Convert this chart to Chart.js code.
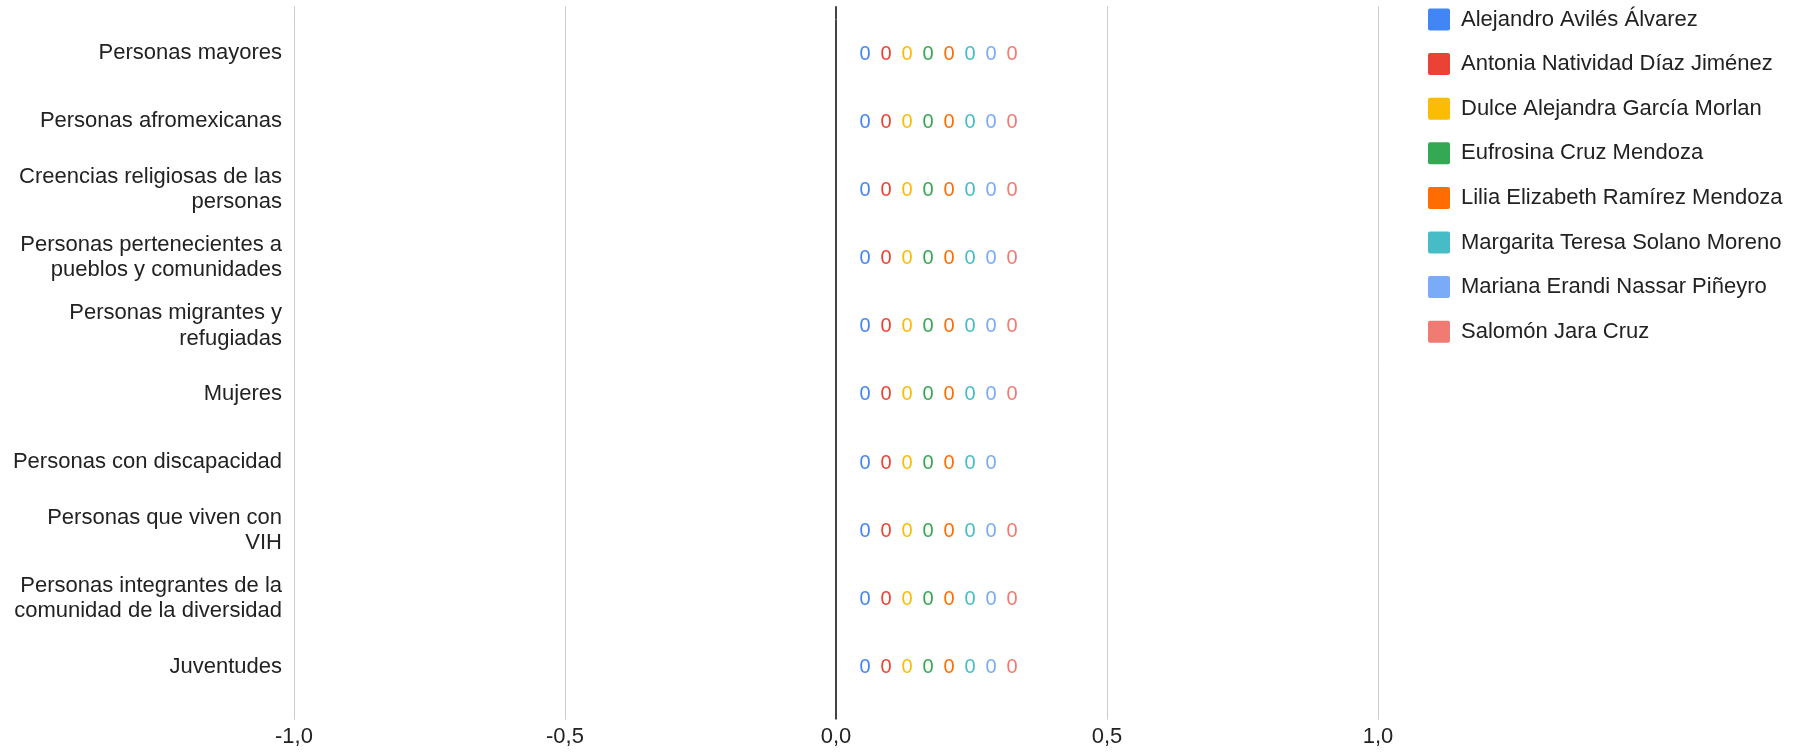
<!DOCTYPE html>
<html>
<head>
<meta charset="utf-8">
<script src="https://cdn.jsdelivr.net/npm/chart.js@4.4.1/dist/chart.umd.min.js"></script>
<style>
  html, body { margin: 0; padding: 0; background: #ffffff; }
  #wrap { width: 1809px; height: 754px; position: relative; }
</style>
</head>
<body>
<div id="wrap"><canvas id="c"></canvas></div>
<script>
// ---------- data ----------
const categories = [
  "Personas mayores",
  "Personas afromexicanas",
  ["Creencias religiosas de las", "personas"],
  ["Personas pertenecientes a", "pueblos y comunidades"],
  ["Personas migrantes y", "refugiadas"],
  "Mujeres",
  "Personas con discapacidad",
  ["Personas que viven con", "VIH"],
  ["Personas integrantes de la", "comunidad de la diversidad"],
  "Juventudes"
];
const seriesNames = [
  "Alejandro Avilés Álvarez",
  "Antonia Natividad Díaz Jiménez",
  "Dulce Alejandra García Morlan",
  "Eufrosina Cruz Mendoza",
  "Lilia Elizabeth Ramírez Mendoza",
  "Margarita Teresa Solano Moreno",
  "Mariana Erandi Nassar Piñeyro",
  "Salomón Jara Cruz"
];
const seriesColors = ["#4285F4", "#EA4335", "#FBBC04", "#34A853", "#FF6D01", "#46BDC6", "#7BAAF7", "#F07B72"];
const alejandroValues = [0, 0, 0, 0, 0, 0, 0, 0, 0, 0];
const antoniaValues   = [0, 0, 0, 0, 0, 0, 0, 0, 0, 0];
const dulceValues     = [0, 0, 0, 0, 0, 0, 0, 0, 0, 0];
const eufrosinaValues = [0, 0, 0, 0, 0, 0, 0, 0, 0, 0];
const liliaValues     = [0, 0, 0, 0, 0, 0, 0, 0, 0, 0];
const margaritaValues = [0, 0, 0, 0, 0, 0, 0, 0, 0, 0];
const marianaValues   = [0, 0, 0, 0, 0, 0, 0, 0, 0, 0];
const salomonValues   = [0, 0, 0, 0, 0, 0, null, 0, 0, 0];
const seriesValues = [alejandroValues, antoniaValues, dulceValues, eufrosinaValues,
                      liliaValues, margaritaValues, marianaValues, salomonValues];
const xTickValues = [-1, -0.5, 0, 0.5, 1];
const xTickLabels = ["-1,0", "-0,5", "0,0", "0,5", "1,0"];

// ---------- styling ----------
const FONT = "'Liberation Sans', Arial, sans-serif";
const TEXT = "#222222";
const gridColor = ctx => (ctx.tick && ctx.tick.value === 0) ? "#444444" : "#cccccc";
const gridWidth = ctx => (ctx.tick && ctx.tick.value === 0) ? 2 : 1;
const LABEL_START = 29, LABEL_STEP = 21;
const LEGEND_WIDTH = 431, LEGEND_SHIFT_X = 27.4, LEGEND_SHIFT_Y = -20.3;

const zeroLabels = {
  id: "zeroLabels",
  afterDatasetsDraw(chart) {
    const { ctx } = chart;
    const xs = chart.scales.x, ys = chart.scales.y;
    ctx.save();
    ctx.font = "20px " + FONT;
    ctx.textAlign = "center";
    ctx.textBaseline = "middle";
    chart.data.datasets.forEach((ds, i) => {
      ds.data.forEach((v, j) => {
        if (v === null || v === undefined) return;
        ctx.fillStyle = ds.backgroundColor;
        ctx.fillText(String(v).replace(".", ","),
          xs.getPixelForValue(v) + LABEL_START + i * LABEL_STEP,
          ys.getPixelForValue(j) + 1);
      });
    });
    ctx.restore();
  }
};

const legendPlacer = {
  id: "legendPlacer",
  afterInit(chart) {
    const lg = chart.legend;
    const orig = lg.fit;
    lg.fit = function () { orig.call(this); this.width = LEGEND_WIDTH; };
  },
  afterLayout(chart) {
    const lg = chart.legend;
    lg.left += LEGEND_SHIFT_X; lg.right += LEGEND_SHIFT_X;
    lg.top += LEGEND_SHIFT_Y; lg.bottom += LEGEND_SHIFT_Y;
  }
};

new Chart(document.getElementById("c"), {
  type: "bar",
  data: {
    labels: categories,
    datasets: seriesNames.map((name, i) => ({
      label: name,
      data: seriesValues[i],
      backgroundColor: seriesColors[i],
      borderColor: seriesColors[i],
      borderWidth: 0
    }))
  },
  options: {
    indexAxis: "y",
    responsive: true,
    maintainAspectRatio: false,
    animation: false,
    devicePixelRatio: 1,
    layout: { padding: { top: 6.2, bottom: 0, left: 0, right: 0 } },
    scales: {
      x: {
        type: "linear", position: "bottom", min: -1, max: 1,
        ticks: {
          stepSize: 0.5, padding: 4, color: TEXT,
          font: { family: FONT, size: 22 },
          callback: v => { const k = xTickValues.indexOf(v); return k >= 0 ? xTickLabels[k] : ""; }
        },
        grid: { color: gridColor, lineWidth: gridWidth, drawTicks: true, tickLength: 19 },
        border: { display: false }
      },
      xTop: {
        axis: "x", type: "linear", position: "top", min: -1, max: 1,
        ticks: { stepSize: 0.5, display: false },
        grid: { color: gridColor, lineWidth: gridWidth, drawOnChartArea: false, drawTicks: true, tickLength: 13 },
        border: { display: false }
      },
      y: {
        type: "category",
        grid: { display: false, drawTicks: false },
        border: { display: false },
        ticks: { padding: 12, color: TEXT, font: { family: FONT, size: 22, lineHeight: 1.15 } },
        afterFit(s) { s.width = 294; s.paddingTop = 0; s.paddingBottom = 0; }
      }
    },
    plugins: {
      legend: {
        position: "right", align: "start",
        labels: {
          boxWidth: 22, boxHeight: 22, padding: 22.6, color: TEXT,
          font: { family: FONT, size: 22 },
          useBorderRadius: true, borderRadius: 2
        }
      },
      tooltip: { enabled: false }
    }
  },
  plugins: [zeroLabels, legendPlacer]
});
</script>
</body>
</html>
